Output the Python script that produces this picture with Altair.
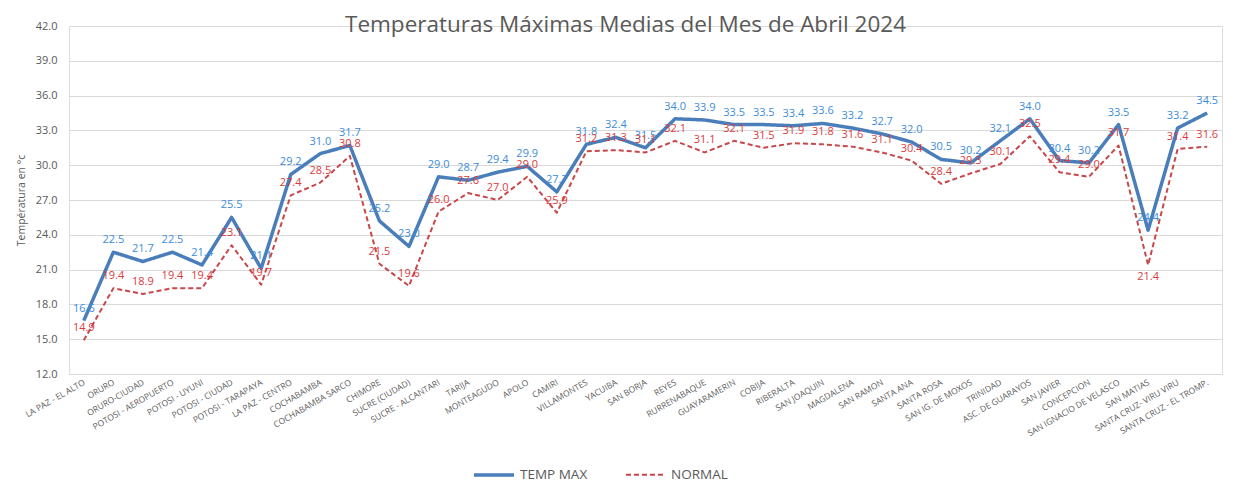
import altair as alt
import pandas as pd

stations = [
    "LA PAZ - EL ALTO", "ORURO", "ORURO-CIUDAD", "POTOSI - AEROPUERTO", "POTOSI - UYUNI",
    "POTOSI - CIUDAD", "POTOSI - TARAPAYA", "LA PAZ - CENTRO", "COCHABAMBA", "COCHABAMBA SARCO",
    "CHIMORE", "SUCRE (CIUDAD)", "SUCRE - ALCANTARI", "TARIJA", "MONTEAGUDO",
    "APOLO", "CAMIRI", "VILLAMONTES", "YACUIBA", "SAN BORJA",
    "REYES", "RURRENABAQUE", "GUAYARAMERIN", "COBIJA", "RIBERALTA",
    "SAN JOAQUIN", "MAGDALENA", "SAN RAMON", "SANTA ANA", "SANTA ROSA",
    "SAN IG. DE MOXOS", "TRINIDAD", "ASC. DE GUARAYOS", "SAN JAVIER", "CONCEPCION",
    "SAN IGNACIO DE VELASCO", "SAN MATIAS", "SANTA CRUZ- VIRU VIRU", "SANTA CRUZ - EL TROMP.",
]
temp_max = [
    16.6, 22.5, 21.7, 22.5, 21.4,
    25.5, 21.1, 29.2, 31.0, 31.7,
    25.2, 23.0, 29.0, 28.7, 29.4,
    29.9, 27.7, 31.8, 32.4, 31.5,
    34.0, 33.9, 33.5, 33.5, 33.4,
    33.6, 33.2, 32.7, 32.0, 30.5,
    30.2, 32.1, 34.0, 30.4, 30.2,
    33.5, 24.4, 33.2, 34.5,
]
normal = [
    14.9, 19.4, 18.9, 19.4, 19.4,
    23.1, 19.7, 27.4, 28.5, 30.8,
    21.5, 19.6, 26.0, 27.6, 27.0,
    29.0, 25.9, 31.2, 31.3, 31.1,
    32.1, 31.1, 32.1, 31.5, 31.9,
    31.8, 31.6, 31.1, 30.4, 28.4,
    29.3, 30.1, 32.5, 29.4, 29.0,
    31.7, 21.4, 31.4, 31.6,
]
series_names = ["TEMP MAX", "NORMAL"]
y_ticks = [12, 15, 18, 21, 24, 27, 30, 33, 36, 39, 42]

n = len(stations)
df = pd.DataFrame({
    "station": stations * 2,
    "idx": list(range(n)) * 2,
    "serie": [series_names[0]] * n + [series_names[1]] * n,
    "valor": temp_max + normal,
})

GRAY = "#595959"
FONT = "Open Sans"
BLUE = "#4A7EBB"
RED = "#C8474A"

x_enc = alt.X(
    "station:N", sort=stations,
    scale=alt.Scale(type="point", padding=0.5),
    axis=alt.Axis(
        title=None, labelAngle=-30, labelAlign="right", labelBaseline="middle",
        labelFont=FONT, labelFontSize=8.5, labelColor=GRAY, ticks=False,
        domain=False, labelPadding=7, labelOverlap=False, labelLimit=0, grid=False,
    ),
)
y_enc = alt.Y(
    "valor:Q",
    scale=alt.Scale(domain=[12, 42], nice=False, zero=False),
    axis=alt.Axis(
        values=y_ticks, tickCount=11, format=".1f", title="Températura en °c", grid=True,
        gridColor="#D9D9D9", gridWidth=1, domain=False, ticks=False, labelPadding=12,
        labelColor=GRAY, labelFont=FONT, labelFontSize=11, labelOverlap=False,
        labelFlush=False, labelBound=False,
        titleFont=FONT, titleFontSize=10.5, titleFontWeight="normal", titleColor=GRAY,
        titlePadding=9,
    ),
)

base = alt.Chart(df)

lines = base.mark_line(strokeCap="butt", strokeJoin="round").encode(
    x=x_enc,
    y=y_enc,
    order=alt.Order("idx:Q"),
    color=alt.Color(
        "serie:N",
        scale=alt.Scale(domain=series_names, range=[BLUE, RED]),
        legend=alt.Legend(
            title=None, orient="none", legendX=403, legendY=427, direction="horizontal",
            symbolType="stroke", symbolSize=1600, labelFont=FONT, labelFontSize=13.5,
            labelColor=GRAY, columnPadding=34, labelOffset=4,
        ),
    ),
    strokeDash=alt.StrokeDash(
        "serie:N", scale=alt.Scale(domain=series_names, range=[[1, 0], [5, 3]]), legend=alt.Legend(title=None)
    ),
    strokeWidth=alt.StrokeWidth(
        "serie:N", scale=alt.Scale(domain=series_names, range=[3.5, 2.0]), legend=alt.Legend(title=None)
    ),
)

labels_max = base.transform_filter(alt.datum.serie == series_names[0]).mark_text(
    dy=-12, fontSize=11, font=FONT, color="#3D8CD9"
).encode(x=x_enc, y=y_enc, text=alt.Text("valor:Q", format=".1f"))

labels_norm = base.transform_filter(
    (alt.datum.serie == series_names[1]) & (alt.datum.station != "SAN MATIAS")
).mark_text(dy=-12, fontSize=11, font=FONT, color="#DC3B3B").encode(
    x=x_enc, y=y_enc, text=alt.Text("valor:Q", format=".1f")
)

labels_norm_below = base.transform_filter(
    (alt.datum.serie == series_names[1]) & (alt.datum.station == "SAN MATIAS")
).mark_text(dy=12, fontSize=11, font=FONT, color="#DC3B3B").encode(
    x=x_enc, y=y_enc, text=alt.Text("valor:Q", format=".1f")
)

chart = alt.layer(lines, labels_max, labels_norm, labels_norm_below).properties(
    width=1153,
    height=348,
    autosize=alt.AutoSizeParams(type="none"),
    padding={"left": 61, "top": 18, "right": 11, "bottom": 110},
    title=alt.TitleParams(
        "Temperaturas Máximas Medias del Mes de Abril 2024",
        font=FONT, fontSize=22.5, fontWeight="normal", color=GRAY,
        anchor="middle", offset=-16, dx=-20,
    ),
).configure_view(stroke=None).configure(background="white")

chart.save("out.html", embed_options={"renderer": "svg", "actions": False})
